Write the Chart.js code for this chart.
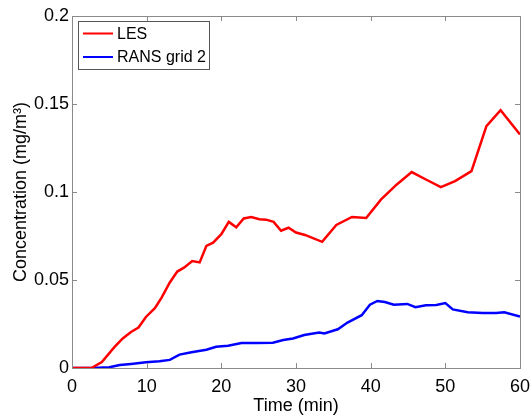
<!DOCTYPE html>
<html>
<head>
<meta charset="utf-8">
<script src="https://cdn.jsdelivr.net/npm/chart.js@4/dist/chart.umd.min.js"></script>
<style>
  html, body { margin: 0; padding: 0; background: #fff; }
  #wrap { width: 531px; height: 419px; }
</style>
</head>
<body>
<div id="wrap"><canvas id="Chart" width="531" height="419"></canvas></div>
<script>
// values (time in min, concentration in mg/m3)
const lesTime = [0, 2.6, 4.0, 5.7, 6.8, 7.9, 8.9, 9.9, 11.1, 12.0, 13.1, 14.1, 15.0, 16.1, 17.1, 18.0, 18.9, 20.0, 21.0, 22.0, 23.0, 24.0, 25.1, 26.0, 27.0, 28.0, 29.0, 30.0, 31.2, 33.5, 35.4, 37.5, 39.4, 41.4, 43.5, 45.5, 47.4, 49.4, 51.3, 53.5, 55.5, 57.4, 60];
const lesValues = [0, 0, 0.0034, 0.012, 0.0168, 0.0205, 0.023, 0.029, 0.034, 0.040, 0.0486, 0.0548, 0.057, 0.0608, 0.060, 0.0694, 0.0712, 0.076, 0.083, 0.080, 0.085, 0.0858, 0.0845, 0.0843, 0.083, 0.078, 0.0797, 0.077, 0.0756, 0.0717, 0.0813, 0.0858, 0.0852, 0.0958, 0.1043, 0.1113, 0.1071, 0.1028, 0.1062, 0.1119, 0.1374, 0.1465, 0.1327];

const ransTime = [0, 2.7, 5.0, 6.4, 7.9, 9.9, 11.7, 13.1, 14.4, 16.0, 18.0, 19.3, 20.9, 22.7, 24.7, 26.9, 28.3, 29.6, 31.1, 33.1, 33.8, 35.6, 36.9, 38.8, 39.9, 40.9, 41.9, 43.1, 44.9, 46.0, 47.4, 48.8, 50.0, 51.0, 53.0, 55.0, 56.8, 57.9, 60];
const ransValues = [0, 0, 0.0004, 0.0017, 0.0023, 0.0032, 0.0038, 0.0046, 0.0076, 0.0089, 0.0104, 0.0121, 0.0127, 0.0142, 0.0142, 0.0144, 0.0159, 0.0168, 0.0187, 0.0202, 0.0196, 0.022, 0.0258, 0.030, 0.036, 0.0381, 0.0375, 0.036, 0.0364, 0.0345, 0.0356, 0.0358, 0.0369, 0.0333, 0.0317, 0.0312, 0.0312, 0.0317, 0.0293];

const seriesLabels = ['LES', 'RANS grid 2'];
const xTicks = [0, 10, 20, 30, 40, 50, 60];
const yTicks = [0, 0.05, 0.1, 0.15, 0.2];
const yTickLabels = ['0', '0.05', '0.1', '0.15', '0.2'];

const font = "'Liberation Sans', Arial, sans-serif";
const boxColor = '#8a8a8a';

function toPoints(xs, ys) {
    return xs.map((x, i) => ({ x: x, y: ys[i] }));
}

// MATLAB-style box with inward ticks on all four sides, plus the legend
const matlabBox = {
    id: 'matlabBox',
    afterDraw(chart) {
        const { ctx, chartArea: a, scales } = chart;
        ctx.save();
        ctx.strokeStyle = boxColor;
        ctx.lineWidth = 1;
        ctx.strokeRect(a.left + 0.5, a.top + 0.5, a.right - a.left, a.bottom - a.top);
        const t = 5;
        ctx.beginPath();
        xTicks.forEach(v => {
            const px = Math.round(scales.x.getPixelForValue(v)) + 0.5;
            ctx.moveTo(px, a.bottom); ctx.lineTo(px, a.bottom - t);
            ctx.moveTo(px, a.top); ctx.lineTo(px, a.top + t);
        });
        yTicks.forEach(v => {
            const py = Math.round(scales.y.getPixelForValue(v)) + 0.5;
            ctx.moveTo(a.left, py); ctx.lineTo(a.left + t, py);
            ctx.moveTo(a.right, py); ctx.lineTo(a.right - t, py);
        });
        ctx.stroke();

        // legend
        const lx = a.left + 6, ly = a.top + 5, lw = 131, lh = 48;
        ctx.fillStyle = '#fff';
        ctx.fillRect(lx, ly, lw, lh);
        ctx.strokeStyle = '#555';
        ctx.strokeRect(lx + 0.5, ly + 0.5, lw, lh);
        ctx.font = '16px ' + font;
        ctx.textBaseline = 'middle';
        chart.data.datasets.forEach((ds, i) => {
            const y = ly + 12.5 + i * 23.5;
            ctx.strokeStyle = ds.borderColor;
            ctx.lineWidth = 2;
            ctx.beginPath();
            ctx.moveTo(lx + 5, y); ctx.lineTo(lx + 35, y);
            ctx.stroke();
            ctx.fillStyle = '#000';
            ctx.fillText(ds.label, lx + 39, y + 1);
        });
        ctx.restore();
    }
};

const ctx = document.getElementById('Chart').getContext('2d');
const myChart = new Chart(ctx, {
    type: 'line',
    data: {
        datasets: [{
            label: seriesLabels[0],
            data: toPoints(lesTime, lesValues),
            borderColor: '#ff0000',
            borderWidth: 2.5,
            pointRadius: 0,
            tension: 0
        }, {
            label: seriesLabels[1],
            data: toPoints(ransTime, ransValues),
            borderColor: '#0000ff',
            borderWidth: 2.5,
            pointRadius: 0,
            tension: 0
        }]
    },
    options: {
        responsive: false,
        animation: false,
        layout: { padding: { top: 16, right: 11, left: 0, bottom: 0 } },
        plugins: {
            legend: { display: false },
            tooltip: { enabled: false }
        },
        scales: {
            x: {
                type: 'linear',
                min: 0,
                max: 60,
                afterBuildTicks: s => { s.ticks = xTicks.map(v => ({ value: v })); },
                afterFit: s => {
                    s.height = 51;
                    s.paddingLeft = 0;
                    s.paddingRight = 0; // let the "60" label spill into the margin
                },
                grid: { display: false, drawTicks: false },
                border: { display: false },
                ticks: { color: '#000', padding: 8, maxRotation: 0, font: { family: font, size: 18 } },
                title: {
                    display: true,
                    text: 'Time (min)',
                    color: '#000',
                    padding: { top: 0, bottom: 2 },
                    font: { family: font, size: 18 }
                }
            },
            y: {
                min: 0,
                max: 0.2,
                afterBuildTicks: s => { s.ticks = yTicks.map(v => ({ value: v })); },
                afterFit: s => { s.width = 72; },
                grid: { display: false, drawTicks: false },
                border: { display: false },
                ticks: {
                    color: '#000',
                    padding: 3,
                    font: { family: font, size: 18 },
                    callback: v => yTickLabels[yTicks.indexOf(v)]
                },
                title: {
                    display: true,
                    text: 'Concentration (mg/m\u00B3)',
                    color: '#000',
                    padding: { top: 10, bottom: 0 },
                    font: { family: font, size: 18 }
                }
            }
        }
    },
    plugins: [matlabBox]
});
</script>
</body>
</html>
